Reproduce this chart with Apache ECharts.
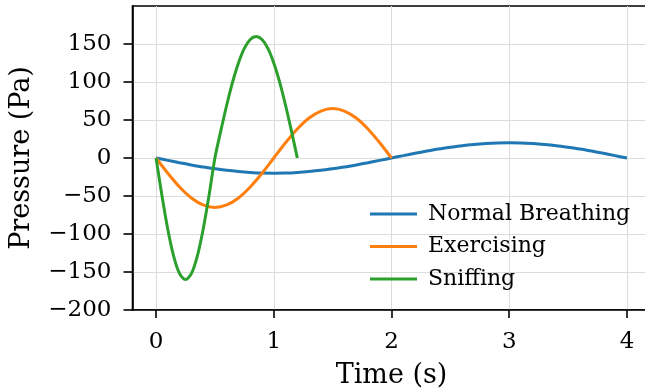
<!DOCTYPE html>
<html>
<head>
<meta charset="utf-8">
<script src="https://cdn.jsdelivr.net/npm/echarts@6/dist/echarts.min.js"></script>
<style>html,body{margin:0;padding:0;background:#fff}#c{width:645px;height:391px}</style>
</head>
<body>
<div id="c"></div>
<script>
// Normal Breathing (t step 0.1 s)
const normalT = [0,0.1,0.2,0.3,0.4,0.5,0.6,0.7,0.8,0.9,1.0,1.1,1.2,1.3,1.4,1.5,1.6,1.7,1.8,1.9,2.0,
                 2.1,2.2,2.3,2.4,2.5,2.6,2.7,2.8,2.9,3.0,3.1,3.2,3.3,3.4,3.5,3.6,3.7,3.8,3.9,4.0];
const normalP = [0,-3.1,-6.2,-9.1,-11.8,-14.1,-16.2,-17.8,-19.0,-19.8,-20,-19.8,-19.0,-17.8,-16.2,-14.1,-11.8,-9.1,-6.2,-3.1,0,
                 3.1,6.2,9.1,11.8,14.1,16.2,17.8,19.0,19.8,20,19.8,19.0,17.8,16.2,14.1,11.8,9.1,6.2,3.1,0];
// Exercising (t step 0.1 s)
const exerT = [0,0.1,0.2,0.3,0.4,0.5,0.6,0.7,0.8,0.9,1.0,1.1,1.2,1.3,1.4,1.5,1.6,1.7,1.8,1.9,2.0];
const exerP = [0,-20.1,-38.2,-52.6,-61.8,-65,-61.8,-52.6,-38.2,-20.1,0,20.1,38.2,52.6,61.8,65,61.8,52.6,38.2,20.1,0];
// Sniffing (t step 0.05 s)
const sniffT = [0,0.05,0.1,0.15,0.2,0.25,0.3,0.35,0.4,0.45,0.5,0.55,0.6,0.65,0.7,0.75,0.8,0.85,0.9,0.95,1.0,1.05,1.1,1.15,1.2];
const sniffP = [0,-49.4,-94.0,-129.4,-152.2,-160,-152.2,-129.4,-94.0,-49.4,0,35.6,69.4,99.8,125.1,144.2,156.0,160,156.0,144.2,125.1,99.8,69.4,35.6,0];

const xTicks = [0,1,2,3,4];
const yTicks = [-200,-150,-100,-50,0,50,100,150];
const seriesNames = ['Normal Breathing','Exercising','Sniffing'];
const colors = ['#1f77b4','#ff7f0e','#2ca02c'];

const zip = (a,b) => a.map((v,i)=>[v,b[i]]);
const font = 'DejaVu Serif';
const chart = echarts.init(document.getElementById('c'), null, {renderer:'canvas'});
chart.setOption({
  animation:false,
  backgroundColor:'#fff',
  color: colors,
  grid:{left:132.5, top:6, bottom:81, right:-5.5, outerBoundsMode:'none', containLabel:false,
        show:true, borderColor:'#000', borderWidth:1.6, backgroundColor:'transparent'},
  xAxis:{
    type:'value', min:-0.2, max:4.2,
    name:'Time (s)', nameLocation:'middle', nameGap:52,
    nameTextStyle:{fontFamily:font, fontSize:27, color:'#000'},
    axisLine:{onZero:false, lineStyle:{color:'#000', width:1.6}},
    axisTick:{customValues:xTicks, length:8, lineStyle:{color:'#000', width:1.6}},
    axisLabel:{customValues:xTicks, fontFamily:font, fontSize:23, color:'#000', margin:21},
    splitLine:{show:true, lineStyle:{color:'#dcdcdc', width:1}}
  },
  yAxis:{
    type:'value', min:-200, max:200,
    name:'Pressure (Pa)', nameLocation:'middle', nameGap:97,
    nameTextStyle:{fontFamily:font, fontSize:27, color:'#000'},
    axisLine:{show:true, onZero:false, lineStyle:{color:'#000', width:1.6}},
    axisTick:{show:true, customValues:yTicks, length:9, lineStyle:{color:'#000', width:1.6}},
    axisLabel:{customValues:yTicks, fontFamily:font, fontSize:23, color:'#000', margin:21,
      formatter:v=> (v<0? '\u2212'+Math.abs(v) : String(v))},
    splitLine:{show:true, lineStyle:{color:'#dcdcdc', width:1}}
  },
  legend:{
    orient:'vertical', left:365, top:197, itemWidth:47, itemHeight:3, itemGap:8.5,
    icon:'rect',
    textStyle:{fontFamily:font, fontSize:22, color:'#000', lineHeight:24, padding:[0,0,0,6]},
    data:seriesNames
  },
  series:[
    {name:seriesNames[0], type:'line', data:zip(normalT,normalP), symbol:'none', smooth:0.3, lineStyle:{width:3}},
    {name:seriesNames[1], type:'line', data:zip(exerT,exerP), symbol:'none', smooth:0.3, lineStyle:{width:3}},
    {name:seriesNames[2], type:'line', data:zip(sniffT,sniffP), symbol:'none', smooth:0.3, lineStyle:{width:3}}
  ]
});
</script>
</body>
</html>
